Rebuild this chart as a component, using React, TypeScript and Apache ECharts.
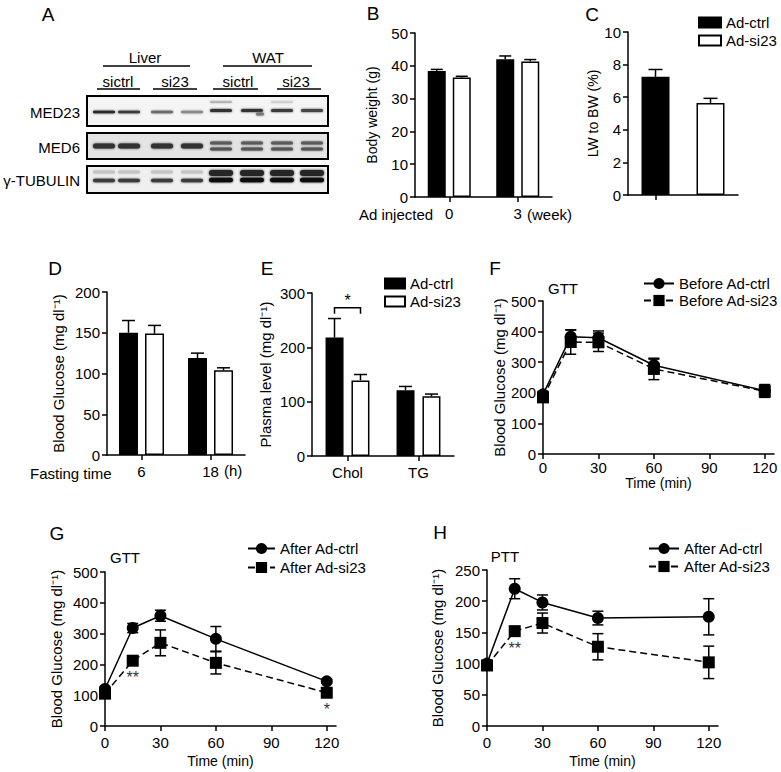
import React, { useEffect, useRef } from "react";
import * as echarts from "echarts";

const FONT = '"Liberation Sans", Arial, Helvetica, sans-serif';
const BG_LABEL = "Blood Glucose (mg dl\u207B\u00B9)";

// ---- Panel B: body weight (g)
const bCategories = ["0", "3"];
const bCtrl = [38.4, 42.0];
const bCtrlErr = [0.5, 1.0];
const bSi = [36.4, 41.3];
const bSiErr = [0.4, 0.6];

// ---- Panel C: LW to BW (%)
const cCategories = ["Ad-ctrl", "Ad-si23"];
const cCtrl = [7.25, null];
const cSi = [null, 5.65];
const cErr = [0.45, 0.28];
const cValues = [7.25, 5.65];

// ---- Panel D: fasting blood glucose
const dCategories = ["6", "18"];
const dCtrl = [150, 119];
const dCtrlErr = [15, 6];
const dSi = [149, 104];
const dSiErr = [10, 3];

// ---- Panel E: plasma level
const eCategories = ["Chol", "TG"];
const eCtrl = [218, 121];
const eCtrlErr = [35, 7];
const eSi = [139, 110];
const eSiErr = [11, 4];
const eSigLevel = 273;

// ---- time course panels
const timePoints = [0, 15, 30, 60, 120];
const timeTicks = [0, 30, 60, 90, 120];

const fCtrl = [195, 383, 380, 290, 207];
const fCtrlErr = [10, 22, 22, 20, 20];
const fSi = [185, 366, 365, 278, 205];
const fSiErr = [10, 40, 30, 35, 20];

const gCtrl = [120, 318, 358, 283, 145];
const gCtrlErr = [8, 15, 18, 40, 6];
const gSi = [105, 212, 270, 205, 108];
const gSiErr = [5, 8, 42, 36, 6];
const gSigIdx = [1, 4];
const gSigMarks = ["**", "*"];

const hCtrl = [100, 220, 198, 173, 175];
const hCtrlErr = [5, 16, 12, 11, 29];
const hSi = [97, 152, 165, 127, 102];
const hSiErr = [5, 4, 16, 21, 26];
const hSigIdx = [1];
const hSigMarks = ["**"];

const axisLineStyle = { color: "#000", width: 1.5 };
const tickStyle = { show: true, length: 5, lineStyle: { color: "#000", width: 1.5 } };
const labelStyle = { color: "#000", fontSize: 15, fontFamily: FONT };

function yAxis(grid: number, max: number, interval: number, name: string, gap: number, nameSize = 14) {
  return {
    type: "value",
    gridIndex: grid,
    min: 0,
    max,
    interval,
    name,
    nameLocation: "middle",
    nameRotate: 90,
    nameGap: gap,
    nameTextStyle: { color: "#000", fontSize: nameSize, fontFamily: FONT },
    axisLine: { show: true, lineStyle: axisLineStyle },
    axisTick: tickStyle,
    axisLabel: { ...labelStyle, margin: 7 },
    splitLine: { show: false },
  };
}

function catAxis(grid: number, cats: string[], showLabel = true) {
  return {
    type: "category",
    gridIndex: grid,
    data: cats,
    axisLine: { show: true, lineStyle: axisLineStyle },
    axisTick: { ...tickStyle, alignWithLabel: true },
    axisLabel: { ...labelStyle, show: showLabel, margin: 9 },
    splitLine: { show: false },
  };
}

function timeAxis(grid: number, nameGap: number, labelMargin: number) {
  return {
    type: "value",
    gridIndex: grid,
    min: 0,
    max: 125,
    interval: 30,
    name: "Time (min)",
    nameLocation: "middle",
    nameGap,
    nameTextStyle: { color: "#000", fontSize: 14, fontFamily: FONT },
    axisLine: { show: true, lineStyle: axisLineStyle, onZero: false },
    axisTick: { ...tickStyle, customValues: timeTicks },
    axisLabel: { ...labelStyle, margin: labelMargin, customValues: timeTicks },
    splitLine: { show: false },
  };
}

function barSeries(name: string, idx: number, data: any[], width: number, gap: string, filled: boolean) {
  return {
    type: "bar",
    name,
    xAxisIndex: idx,
    yAxisIndex: idx,
    data,
    barWidth: width,
    barGap: gap,
    itemStyle: {
      color: filled ? "#000" : "#fff",
      borderColor: "#000",
      borderWidth: 1.5,
    },
    z: 2,
  };
}

function barErr(idx: number, vals: number[], errs: number[], offset: number, cap: number) {
  return {
    type: "custom",
    name: "err",
    xAxisIndex: idx,
    yAxisIndex: idx,
    z: 3,
    data: vals.map((v, i) => [i, v, errs[i]]),
    renderItem: (params: any, api: any) => {
      const cat = api.value(0);
      const v = api.value(1);
      const e = api.value(2);
      const p0 = api.coord([cat, v]);
      const p1 = api.coord([cat, v + e]);
      const x = p0[0] + offset;
      return {
        type: "group",
        children: [
          { type: "line", shape: { x1: x, y1: p0[1], x2: x, y2: p1[1] }, style: { stroke: "#000", lineWidth: 1.5 } },
          { type: "line", shape: { x1: x - cap / 2, y1: p1[1], x2: x + cap / 2, y2: p1[1] }, style: { stroke: "#000", lineWidth: 1.5 } },
        ],
      };
    },
  };
}

function lineSeries(name: string, idx: number, vals: number[], dashed: boolean) {
  return {
    type: "line",
    name,
    xAxisIndex: idx,
    yAxisIndex: idx,
    data: timePoints.map((t, i) => [t, vals[i]]),
    symbol: dashed ? "rect" : "circle",
    symbolSize: 12,
    lineStyle: { color: "#000", width: 1.5, type: dashed ? [7, 4] : "solid" },
    itemStyle: { color: "#000" },
    z: 4,
  };
}

function lineErr(idx: number, vals: number[], errs: number[], cap: number) {
  return {
    type: "custom",
    name: "lerr",
    xAxisIndex: idx,
    yAxisIndex: idx,
    z: 3,
    data: timePoints.map((t, i) => [t, vals[i], errs[i]]),
    renderItem: (params: any, api: any) => {
      const t = api.value(0);
      const v = api.value(1);
      const e = api.value(2);
      const top = api.coord([t, v + e]);
      const bot = api.coord([t, v - e]);
      const x = top[0];
      const hw = cap / 2;
      const st = () => ({ stroke: "#000", lineWidth: 1.5 });
      return {
        type: "group",
        children: [
          { type: "line", shape: { x1: x, y1: top[1], x2: x, y2: bot[1] }, style: st() },
          { type: "line", shape: { x1: x - hw, y1: top[1], x2: x + hw, y2: top[1] }, style: st() },
          { type: "line", shape: { x1: x - hw, y1: bot[1], x2: x + hw, y2: bot[1] }, style: st() },
        ],
      };
    },
  };
}

function sigSeries(idx: number, vals: number[], sigIdx: number[], marks: string[]) {
  return {
    type: "custom",
    name: "sig",
    xAxisIndex: idx,
    yAxisIndex: idx,
    z: 5,
    data: sigIdx.map((i) => [timePoints[i], vals[i]]),
    renderItem: (params: any, api: any) => {
      const p = api.coord([api.value(0), api.value(1)]);
      return {
        type: "text",
        x: p[0],
        y: p[1] + 17,
        style: {
          text: marks[params.dataIndex],
          fill: "#333",
          font: `16px ${FONT}`,
          align: "center",
          verticalAlign: "middle",
        },
      };
    },
  };
}

function bracketSeries(idx: number, cat: number, level: number, offset: number) {
  return {
    type: "custom",
    name: "bracket",
    xAxisIndex: idx,
    yAxisIndex: idx,
    z: 5,
    data: [[cat, level]],
    renderItem: (params: any, api: any) => {
      const p = api.coord([api.value(0), api.value(1)]);
      return {
        type: "group",
        children: [
          {
            type: "polyline",
            shape: {
              points: [
                [p[0] - offset, p[1] + 6],
                [p[0] - offset, p[1]],
                [p[0] + offset, p[1]],
                [p[0] + offset, p[1] + 6],
              ],
            },
            style: { stroke: "#000", lineWidth: 1.5, fill: "none" },
          },
          {
            type: "text",
            x: p[0],
            y: p[1] - 7,
            style: { text: "*", fill: "#000", font: `16px ${FONT}`, align: "center", verticalAlign: "middle" },
          },
        ],
      };
    },
  };
}

function txt(x: number, y: number, text: string, size: number, align = "center") {
  return {
    type: "text",
    x,
    y,
    silent: true,
    style: {
      text,
      fill: "#000",
      font: `${size}px ${FONT}`,
      align,
      verticalAlign: "middle",
      textAlign: align,
      textVerticalAlign: "middle",
    },
  };
}

function hline(x1: number, x2: number, y: number) {
  return { type: "line", silent: true, shape: { x1, y1: y, x2, y2: y }, style: { stroke: "#000", lineWidth: 1.5 } };
}

function band(cx: number, cy: number, h: number, color: string, w = 22) {
  return {
    type: "rect",
    silent: true,
    shape: { x: cx - w / 2, y: cy - h / 2, width: w, height: h, r: h / 2 },
    style: { fill: color, shadowBlur: 2, shadowColor: color },
  };
}

function blotGraphics() {
  const lanes = [104, 129, 162, 192, 221, 252, 282, 312];
  const els: any[] = [];
  els.push(txt(145, 57, "Liver", 15), txt(268, 57, "WAT", 15));
  els.push(hline(103, 190, 66), hline(223, 312, 66));
  els.push(txt(118, 81, "sictrl", 15), txt(175, 81, "si23", 15), txt(238, 81, "sictrl", 15), txt(296, 81, "si23", 15));
  els.push(hline(97, 140, 89), hline(153, 197, 89), hline(213, 258, 89), hline(277, 321, 89));
  els.push({ type: "rect", silent: true, shape: { x: 87, y: 96, width: 241, height: 30 }, style: { fill: "#f4f4f4", stroke: "#000", lineWidth: 2 } });
  els.push({ type: "rect", silent: true, shape: { x: 87, y: 133, width: 241, height: 26 }, style: { fill: "#e4e4e4", stroke: "#000", lineWidth: 2 } });
  els.push({ type: "rect", silent: true, shape: { x: 87, y: 166, width: 241, height: 27 }, style: { fill: "#efefef", stroke: "#000", lineWidth: 2 } });
  els.push(txt(80, 112, "MED23", 15, "right"), txt(80, 147, "MED6", 15, "right"), txt(80, 180, "\u03B3-TUBULIN", 15, "right"));
  // MED23
  const med23 = ["#2a2a2a", "#3a3a3a", "#6a6a6a", "#8a8a8a", "#333", "#333", "#3a3a3a", "#444"];
  lanes.forEach((x, i) => els.push(band(x, i < 4 ? 112 : 110.5, i < 4 ? 2.5 : 3, med23[i])));
  els.push(band(221, 102, 2, "#b5b5b5"), band(282, 102, 2, "#d0d0d0"), band(260, 114, 3, "#777", 8));
  // MED6
  lanes.forEach((x, i) => {
    if (i < 4) els.push(band(x, 146, 5, "#333"));
    else {
      els.push(band(x, 143, 3, "#5a5a5a"));
      els.push(band(x, 149, 3, "#555"));
    }
  });
  // gamma tubulin
  lanes.forEach((x, i) => {
    if (i < 4) {
      els.push(band(x, 172, 3, "#c4c4c4"));
      els.push(band(x, 180.5, 3.5, "#3a3a3a"));
    } else {
      els.push(band(x, 173, 6, "#262626", 24));
      els.push(band(x, 180, 4.5, "#111", 24));
    }
  });
  return els;
}

function buildOption() {
  const graphic: any[] = [
    txt(48, 14, "A", 19),
    txt(373, 13, "B", 19),
    txt(592, 14, "C", 19),
    txt(55, 268, "D", 19),
    txt(267, 268, "E", 19),
    txt(495, 268, "F", 19),
    txt(57, 533, "G", 19),
    txt(440, 532, "H", 19),
    txt(396, 214, "Ad injected", 15),
    txt(527, 214, "(week)", 15, "left"),
    txt(30, 473, "Fasting time", 15, "left"),
    txt(224, 470, "(h)", 15, "left"),
    txt(563, 288, "GTT", 15),
    txt(125, 557, "GTT", 15),
    txt(505, 556, "PTT", 15),
    ...blotGraphics(),
  ];

  const grid = [
    { left: 415, top: 33, width: 137, height: 164 },
    { left: 628, top: 32, width: 110, height: 163 },
    { left: 107, top: 292, width: 138, height: 163 },
    { left: 312, top: 293, width: 142, height: 163 },
    { left: 543, top: 301, width: 231, height: 153 },
    { left: 105, top: 572, width: 231, height: 154 },
    { left: 487, top: 570, width: 231, height: 156 },
  ].map((g) => ({ ...g, containLabel: false, outerBoundsMode: "none" }));

  const xAxis = [
    catAxis(0, bCategories),
    catAxis(1, cCategories, false),
    catAxis(2, dCategories),
    catAxis(3, eCategories),
    timeAxis(4, 22, 6),
    timeAxis(5, 28, 9),
    timeAxis(6, 28, 9),
  ];
  const yAxisArr = [
    yAxis(0, 50, 10, "Body weight (g)", 36),
    yAxis(1, 10, 2, "LW to BW (%)", 27),
    yAxis(2, 200, 50, BG_LABEL, 41, 15),
    yAxis(3, 300, 100, "Plasma level (mg dl\u207B\u00B9)", 39, 15),
    yAxis(4, 500, 100, BG_LABEL, 35, 15),
    yAxis(5, 500, 100, BG_LABEL, 41, 15),
    yAxis(6, 250, 50, BG_LABEL, 42, 15),
  ];

  const series: any[] = [
    barSeries("Ad-ctrl", 0, bCtrl, 18, "39%", true),
    barSeries("Ad-si23", 0, bSi, 18, "39%", false),
    barErr(0, bCtrl, bCtrlErr, -12.5, 12),
    barErr(0, bSi, bSiErr, 12.5, 12),

    barSeries("Ad-ctrl", 1, cCtrl, 28, "-100%", true),
    barSeries("Ad-si23", 1, cSi, 28, "-100%", false),
    barErr(1, cValues, cErr, 0, 14),

    barSeries("Ad-ctrl", 2, dCtrl, 19, "37%", true),
    barSeries("Ad-si23", 2, dSi, 19, "37%", false),
    barErr(2, dCtrl, dCtrlErr, -13, 13),
    barErr(2, dSi, dSiErr, 13, 13),

    barSeries("Ad-ctrl", 3, eCtrl, 18, "44%", true),
    barSeries("Ad-si23", 3, eSi, 18, "44%", false),
    barErr(3, eCtrl, eCtrlErr, -13, 13),
    barErr(3, eSi, eSiErr, 13, 13),
    bracketSeries(3, 0, eSigLevel, 13),

    lineErr(4, fCtrl, fCtrlErr, 11),
    lineErr(4, fSi, fSiErr, 11),
    lineSeries("Before Ad-ctrl", 4, fCtrl, false),
    lineSeries("Before Ad-si23", 4, fSi, true),

    lineErr(5, gCtrl, gCtrlErr, 11),
    lineErr(5, gSi, gSiErr, 11),
    lineSeries("After Ad-ctrl", 5, gCtrl, false),
    lineSeries("After Ad-si23", 5, gSi, true),
    sigSeries(5, gSi, gSigIdx, gSigMarks),

    lineErr(6, hCtrl, hCtrlErr, 11),
    lineErr(6, hSi, hSiErr, 11),
    lineSeries("After Ad-ctrl", 6, hCtrl, false),
    lineSeries("After Ad-si23", 6, hSi, true),
    sigSeries(6, hSi, hSigIdx, hSigMarks),
  ];

  const legendText = { color: "#000", fontSize: 15, fontFamily: FONT };
  const legend = [
    { orient: "vertical", left: 698, top: 15, itemWidth: 22, itemHeight: 10, itemGap: 3, icon: "rect", padding: 0, data: ["Ad-ctrl", "Ad-si23"], textStyle: legendText, selectedMode: false },
    { orient: "vertical", left: 384, top: 276, itemWidth: 20, itemHeight: 10, itemGap: 3, icon: "rect", padding: 0, data: ["Ad-ctrl", "Ad-si23"], textStyle: legendText, selectedMode: false },
    { orient: "vertical", left: 643, top: 276, itemWidth: 30, itemHeight: 14, itemGap: 2, padding: 0, data: ["Before Ad-ctrl", "Before Ad-si23"], textStyle: legendText, selectedMode: false },
    { orient: "vertical", left: 247, top: 541, itemWidth: 27, itemHeight: 14, itemGap: 4, padding: 0, data: ["After Ad-ctrl", "After Ad-si23"], textStyle: legendText, selectedMode: false },
    { orient: "vertical", left: 648, top: 541, itemWidth: 30, itemHeight: 14, itemGap: 3, padding: 0, data: ["After Ad-ctrl", "After Ad-si23"], textStyle: legendText, selectedMode: false },
  ];

  return {
    animation: false,
    backgroundColor: "#fff",
    textStyle: { fontFamily: FONT },
    grid,
    xAxis,
    yAxis: yAxisArr,
    legend,
    series,
    graphic: { elements: graphic },
  };
}

export default function App() {
  const ref = useRef<HTMLDivElement>(null);
  useEffect(() => {
    if (!ref.current) return;
    const chart = echarts.init(ref.current, null, { renderer: "svg" });
    chart.setOption(buildOption() as any);
    return () => chart.dispose();
  }, []);
  return (
    <div
      ref={ref}
      style={{ position: "absolute", left: 0, top: 0, width: 781, height: 772, background: "#fff" }}
    />
  );
}
